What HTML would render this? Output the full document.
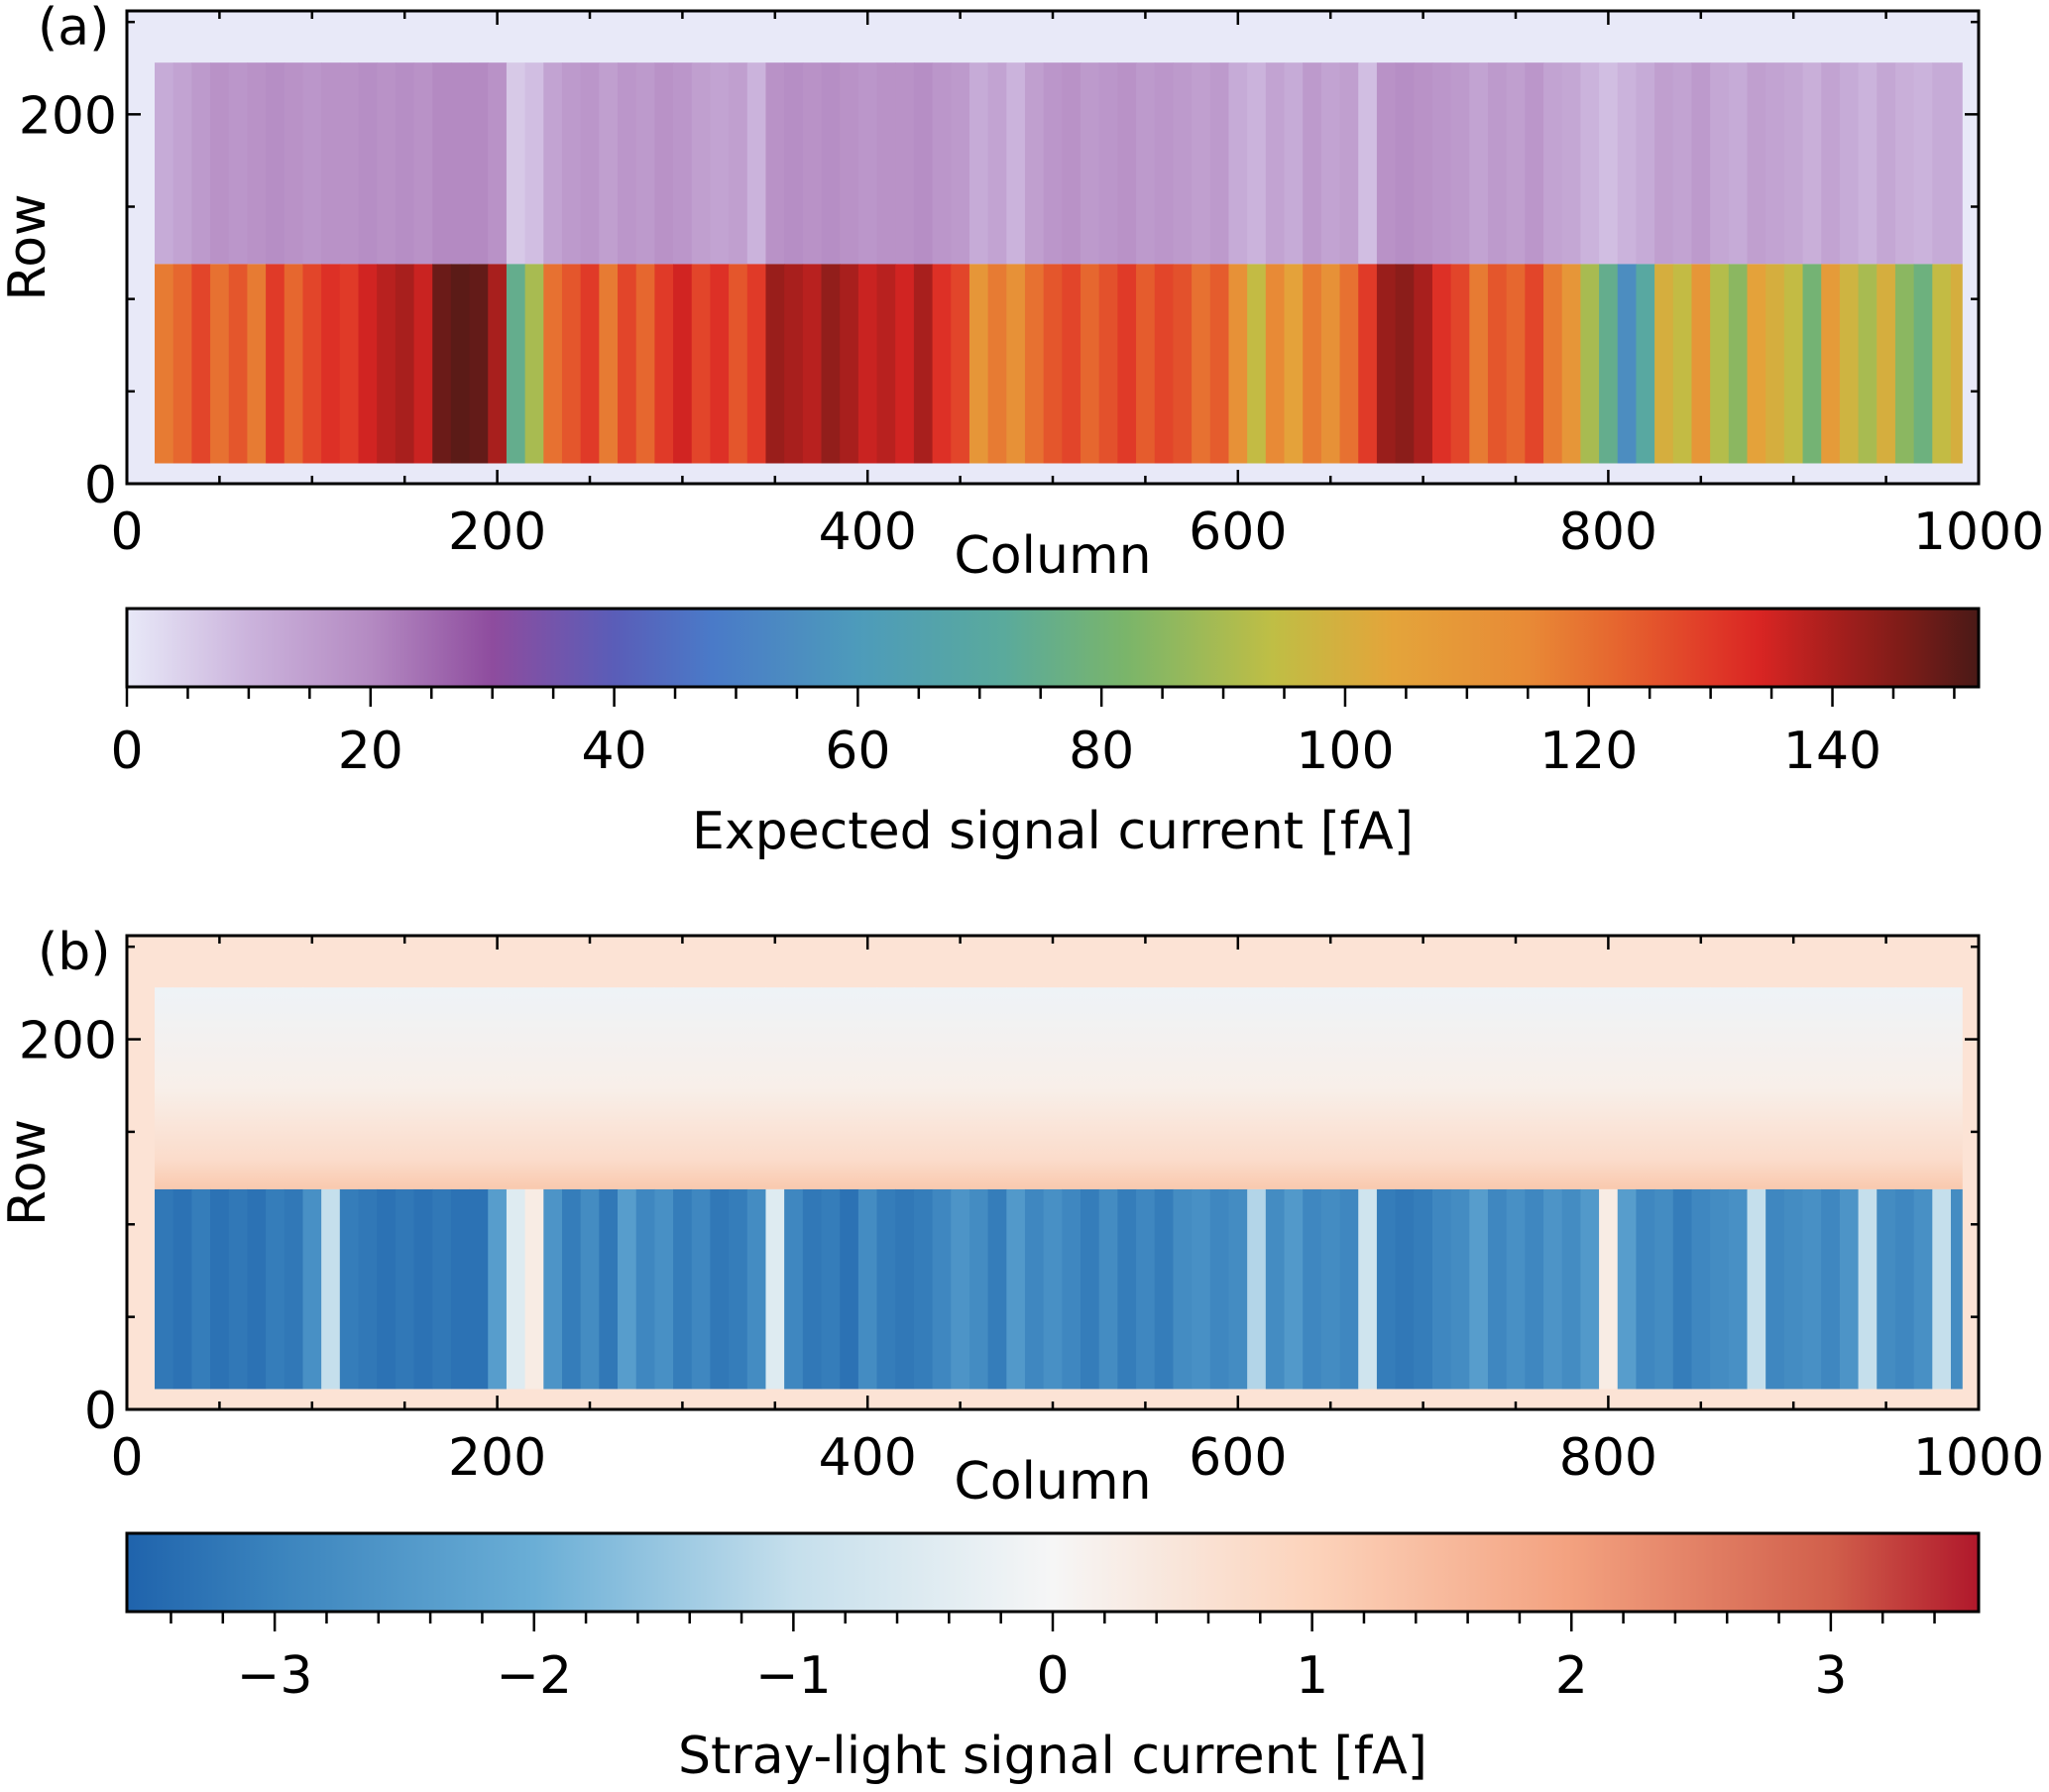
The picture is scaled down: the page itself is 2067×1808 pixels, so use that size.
<!DOCTYPE html>
<html><head><meta charset="utf-8"><style>
html,body{margin:0;padding:0;background:#fff}
svg{display:block;font-family:"DejaVu Sans","Liberation Sans",sans-serif}
</style></head><body>
<svg id="fig" width="2067" height="1808" viewBox="0 0 2067 1808" xmlns="http://www.w3.org/2000/svg"></svg>
<script>
// ---- data (per 10-column bins starting at column 15) ----
const binStarts = [];
for (let c = 15; c < 995; c += 10) binStarts.push(c);
const expectedLower = [118,122,128,120,125,118,130,122,128,132,
130,135,138,140,136,148,150,149,140,75,
90,120,125,130,118,128,122,130,135,128,
132,125,130,142,140,138,143,140,136,138,
135,140,132,128,110,118,112,120,125,128,
122,126,130,124,128,126,120,124,112,95,
115,105,118,112,120,130,142,144,140,132,
128,118,125,122,128,118,110,90,75,55,
70,100,95,110,92,85,105,100,95,80,
108,98,90,100,85,78,95,100];
const expectedUpper = [12,14,16,18,17,18,19,18,17,18,
18,19,18,19,18,20,20,20,18,6,
8,14,16,17,15,17,16,18,17,15,
14,15,10,18,19,18,19,18,17,18,
18,19,17,16,12,14,10,15,17,18,
16,17,18,16,17,16,15,16,12,10,
14,12,16,14,15,8,18,19,18,17,
16,14,16,15,17,14,13,10,8,10,
12,15,14,16,13,12,15,14,13,11,
14,12,10,13,11,10,12,12];
const strayLower = [-3.2,-3.3,-3.1,-3.3,-3.2,-3.3,-3.1,-3.2,-2.7,-1.0,
-3.1,-3.2,-3.3,-3.2,-3.3,-3.2,-3.3,-3.3,-2.4,-0.5,
0.3,-2.6,-3.1,-2.8,-3.2,-2.4,-2.9,-2.7,-3.1,-2.9,
-3.2,-3.1,-2.8,-0.5,-2.9,-3.2,-3.1,-3.3,-2.8,-3.1,
-3.2,-3.1,-2.9,-2.6,-2.8,-3.1,-2.5,-2.9,-2.7,-2.9,
-3.1,-2.8,-3.1,-2.9,-3.1,-2.8,-2.7,-2.9,-2.8,-1.2,
-2.8,-2.5,-2.9,-2.8,-2.9,-0.8,-3.1,-3.2,-3.1,-2.9,
-2.8,-2.4,-2.9,-2.7,-2.9,-2.6,-2.8,-2.5,0.3,-2.4,
-2.9,-2.8,-3.1,-2.9,-2.8,-2.7,-1.0,-2.9,-2.8,-2.7,
-2.9,-2.6,-1.0,-2.8,-2.9,-2.7,-1.0,-2.8];
const xTicks = [0,200,400,600,800,1000];
const yTicks = [0,200];
const cbATicks = [0,20,40,60,80,100,120,140];
const cbBTicks = [-3,-2,-1,0,1,2,3];
const cbBLabels = ["\u22123","\u22122","\u22121","0","1","2","3"];

// ---- colormaps ----
const cmapA = [[0,"#e8e9f8"],[10,"#cbb3dc"],[20,"#b48ac2"],[30,"#8e4c9e"],[40,"#5a5db8"],[48,"#4a7ac8"],[60,"#4d9bbb"],[72,"#5aaa9c"],[82,"#7ab56a"],[94,"#bfbe45"],[104,"#e4a43a"],[115,"#e88a36"],[122,"#e6672f"],[130,"#e03a28"],[134,"#d92523"],[140,"#a81f1d"],[146,"#7c1c18"],[152,"#4a1a17"]];
const cmapB = [[-3.57,"#1f63ac"],[-3,"#3a83bd"],[-2,"#6aaed6"],[-1,"#c5dfec"],[0,"#f6f6f6"],[1,"#fcd3bb"],[2,"#f3a17f"],[3,"#d15f4b"],[3.57,"#b0182b"]];
function hx(h){return [1,3,5].map(i=>parseInt(h.substr(i,2),16));}
function cmap(m,v){
  if(v<=m[0][0]) return m[0][1];
  for(let i=1;i<m.length;i++){ if(v<=m[i][0]){const t=(v-m[i-1][0])/(m[i][0]-m[i-1][0]);const a=hx(m[i-1][1]),b=hx(m[i][1]);return "rgb("+a.map((x,k)=>Math.round(x+(b[k]-x)*t)).join(",")+")";}}
  return m[m.length-1][1];
}
const NS="http://www.w3.org/2000/svg";
const svg=document.getElementById('fig');
function el(tag,attrs,parent){const e=document.createElementNS(NS,tag);for(const k in attrs)e.setAttribute(k,attrs[k]);(parent||svg).appendChild(e);return e;}
const FS=52;
const L=128,R=1996;
const sx=c=>L+(R-L)*c/1000;
function panel(top,bottom,tag,lower,upper,cm,bg){
  const g=el('g',{});
  
  
  const sy=r=>bottom-(bottom-top)*r/256;
  const bgR=el('rect',{x:L,y:top,width:R-L,height:bottom-top,fill:bg},g);
  
  
  binStarts.forEach((c,i)=>{
    const x0=sx(c),w=sx(Math.min(c+10,991))-x0+0.6;
    const r1=el('rect',{x:x0,y:sy(119),width:w,height:sy(11)-sy(119),fill:cmap(cm,lower[i])},g);
    
    
    const fill = typeof upper==='function'?upper(i):cmap(cm,upper[i]);
    const r2=el('rect',{x:x0,y:sy(228),width:w,height:sy(119)-sy(228),fill:fill},g);
    
    
  });
  for(let c=0;c<=1000;c+=50){const len=c%200===0?14:8;
    el('line',{x1:sx(c),x2:sx(c),y1:bottom,y2:bottom-len,stroke:'#000','stroke-width':2.5},g);
    el('line',{x1:sx(c),x2:sx(c),y1:top,y2:top+len,stroke:'#000','stroke-width':2.5},g);}
  for(let r=0;r<=250;r+=50){const len=r%200===0?14:8;
    el('line',{x1:L,x2:L+len,y1:sy(r),y2:sy(r),stroke:'#000','stroke-width':2.5},g);
    el('line',{x1:R,x2:R-len,y1:sy(r),y2:sy(r),stroke:'#000','stroke-width':2.5},g);}
  const fr=el('rect',{x:L,y:top,width:R-L,height:bottom-top,fill:'none',stroke:'#000','stroke-width':3},g);
  
  
  xTicks.forEach(v=>{const t=el('text',{x:sx(v),y:bottom+66,'font-size':FS,'text-anchor':'middle'},g);t.textContent=v;
    });
  yTicks.forEach(v=>{const t=el('text',{x:L-10,y:sy(v)+19,'font-size':FS,'text-anchor':'end'},g);t.textContent=v;
    });
  const xl=el('text',{x:1062,y:bottom+90,'font-size':FS,'text-anchor':'middle'},g);xl.textContent='Column';
  
  const ym=top+(bottom-top)*0.5;
  const yl=el('text',{x:45,y:ym,'font-size':FS,'text-anchor':'middle',transform:'rotate(-90 45 '+ym+')'},g);yl.textContent='Row';
  
  const pl=el('text',{x:38,y:top+34,'font-size':FS},g);pl.textContent='('+tag+')';
  
}
const defs=el('defs',{});
const lg=el('linearGradient',{id:'gradTop',x1:0,y1:0,x2:0,y2:1},defs);
[[0,'#eef3f7'],[0.5,'#f8efe9'],[0.85,'#fbdccb'],[1,'#f9c9ae']].forEach(s=>el('stop',{offset:s[0],'stop-color':s[1]},lg));
panel(11,488,'a',expectedLower,expectedUpper,cmapA,'#e8e9f8');
panel(944,1422,'b',strayLower,i=>'url(#gradTop)',cmapB,'#fce3d5');

function colorbar(top,h,tag,cm,vmin,vmax,ticks,labels,title,minorStep){
  const g=el('g',{});
  
  
  const gid='cbg'+tag;
  const grad=el('linearGradient',{id:gid,x1:0,y1:0,x2:1,y2:0},defs);
  cm.forEach(s=>el('stop',{offset:(s[0]-vmin)/(vmax-vmin),'stop-color':s[1]},grad));
  el('rect',{x:L,y:top,width:R-L,height:h,fill:'url(#'+gid+')',stroke:'#000','stroke-width':3},g);
  const cx=v=>L+(R-L)*(v-vmin)/(vmax-vmin);
  const n=Math.round((vmax-vmin)/minorStep)+2;
  for(let k=-n;k<=n;k++){const v=k*minorStep;if(v<vmin-1e-9||v>vmax+1e-9)continue;
    const major=ticks.some(t=>Math.abs(t-v)<1e-6);
    el('line',{x1:cx(v),x2:cx(v),y1:top+h,y2:top+h+(major?20:12),stroke:'#000','stroke-width':2.5},g);}
  ticks.forEach((v,i)=>{const t=el('text',{x:cx(v),y:top+h+82,'font-size':FS,'text-anchor':'middle'},g);t.textContent=labels[i];
    });
  const tt=el('text',{x:1062,y:top+h+163,'font-size':FS,'text-anchor':'middle'},g);tt.textContent=title;
  
}
colorbar(614,79,'a',cmapA,0,152,cbATicks,cbATicks.map(String),'Expected signal current [fA]',5);
colorbar(1547,79,'b',cmapB,-3.57,3.57,cbBTicks,cbBLabels,'Stray-light signal current [fA]',0.2);
</script>
</body></html>
